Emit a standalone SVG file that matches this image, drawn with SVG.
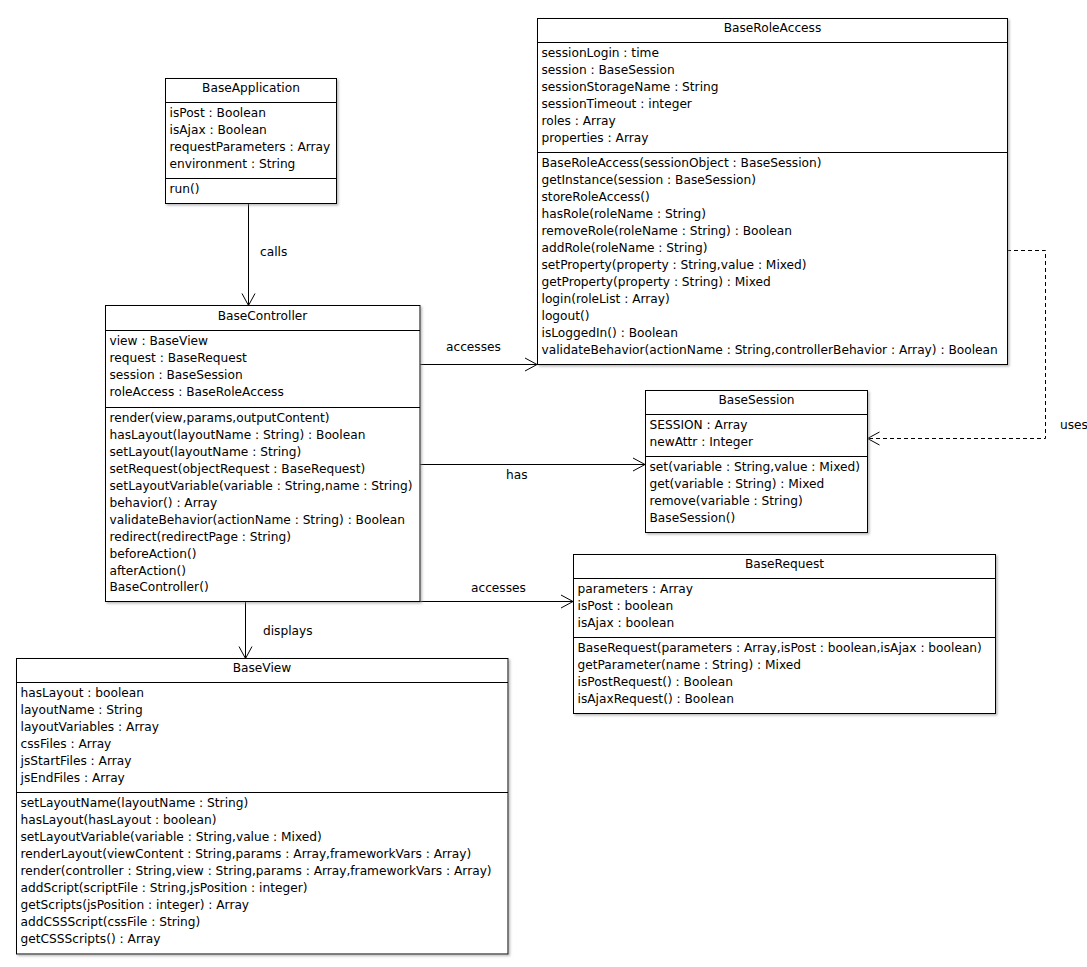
<svg xmlns="http://www.w3.org/2000/svg" width="1087" height="967" viewBox="0 0 1087 967">
<style>
  text { font-family: "DejaVu Sans", "Liberation Sans", sans-serif; font-size: 12.2px; fill: #000; }
  .title { text-anchor: middle; }
  .box { fill: #fff; stroke: #000; stroke-width: 1; filter: url(#sh); }
  .sep { stroke: #000; stroke-width: 1; fill: none; }
  .edge { stroke: #000; stroke-width: 1; fill: none; marker-end: url(#open); }
  .dash { stroke-dasharray: 4 3; }
</style>
<defs>
  <filter id="sh" x="-5%" y="-5%" width="110%" height="110%">
    <feDropShadow dx="1.5" dy="1.5" stdDeviation="0.8" flood-color="#888" flood-opacity="0.6"/>
  </filter>
  <marker id="open" viewBox="-14 -8 15 16" refX="0" refY="0" markerWidth="15" markerHeight="16" orient="auto" markerUnits="userSpaceOnUse">
    <path d="M-12,-6.5 L0,0 L-12,6.5" fill="none" stroke="#000" stroke-width="1"/>
  </marker>
</defs>
<rect width="1087" height="967" fill="#fff"/>

<g id="connectors">
  <path class="edge" d="M248.5,204 L248.5,305.5"/>
  <path class="edge" d="M420,364.5 L537,364.5"/>
  <path class="edge" d="M420,464.5 L645,464.5"/>
  <path class="edge" d="M420,601.5 L573,601.5"/>
  <path class="edge" d="M245.5,602 L245.5,658.5"/>
  <path class="edge dash" d="M1007,250.5 L1045.5,250.5 L1045.5,438.5 L867.5,438.5"/>
  <text x="260" y="256">calls</text>
  <text x="446" y="350.5">accesses</text>
  <text x="506" y="478.5">has</text>
  <text x="471" y="591.5">accesses</text>
  <text x="263" y="635">displays</text>
  <text x="1060" y="428.5">uses</text>
</g>

<g id="BaseApplication">
  <rect class="box" x="165.5" y="78.5" width="171" height="125"/>
  <path class="sep" d="M165.5,102.5 H336.5 M165.5,178.5 H336.5"/>
  <text class="title" x="251" y="91.5">BaseApplication</text>
  <text x="169.5" y="117">isPost : Boolean</text>
  <text x="169.5" y="134">isAjax : Boolean</text>
  <text x="169.5" y="151">requestParameters : Array</text>
  <text x="169.5" y="168">environment : String</text>
  <text x="169.5" y="192.5">run()</text>
</g>

<g id="BaseRoleAccess">
  <rect class="box" x="537.5" y="18.5" width="470" height="346"/>
  <path class="sep" d="M537.5,42.5 H1007.5 M537.5,152.5 H1007.5"/>
  <text class="title" x="772.5" y="31.5">BaseRoleAccess</text>
  <text x="541.5" y="57">sessionLogin : time</text>
  <text x="541.5" y="74">session : BaseSession</text>
  <text x="541.5" y="91">sessionStorageName : String</text>
  <text x="541.5" y="108">sessionTimeout : integer</text>
  <text x="541.5" y="125">roles : Array</text>
  <text x="541.5" y="142">properties : Array</text>
  <text x="541.5" y="167">BaseRoleAccess(sessionObject : BaseSession)</text>
  <text x="541.5" y="184">getInstance(session : BaseSession)</text>
  <text x="541.5" y="201">storeRoleAccess()</text>
  <text x="541.5" y="218">hasRole(roleName : String)</text>
  <text x="541.5" y="235">removeRole(roleName : String) : Boolean</text>
  <text x="541.5" y="252">addRole(roleName : String)</text>
  <text x="541.5" y="269">setProperty(property : String,value : Mixed)</text>
  <text x="541.5" y="286">getProperty(property : String) : Mixed</text>
  <text x="541.5" y="303">login(roleList : Array)</text>
  <text x="541.5" y="320">logout()</text>
  <text x="541.5" y="337">isLoggedIn() : Boolean</text>
  <text x="541.5" y="354">validateBehavior(actionName : String,controllerBehavior : Array) : Boolean</text>
</g>

<g id="BaseController">
  <rect class="box" x="105.5" y="305.5" width="314.5" height="296"/>
  <path class="sep" d="M105.5,330.5 H420 M105.5,407.5 H420"/>
  <text class="title" x="262.5" y="320">BaseController</text>
  <text x="109.5" y="345">view : BaseView</text>
  <text x="109.5" y="362">request : BaseRequest</text>
  <text x="109.5" y="379">session : BaseSession</text>
  <text x="109.5" y="396">roleAccess : BaseRoleAccess</text>
  <text x="109.5" y="421.5">render(view,params,outputContent)</text>
  <text x="109.5" y="438.5">hasLayout(layoutName : String) : Boolean</text>
  <text x="109.5" y="455.5">setLayout(layoutName : String)</text>
  <text x="109.5" y="472.5">setRequest(objectRequest : BaseRequest)</text>
  <text x="109.5" y="489.5">setLayoutVariable(variable : String,name : String)</text>
  <text x="109.5" y="506.5">behavior() : Array</text>
  <text x="109.5" y="523.5">validateBehavior(actionName : String) : Boolean</text>
  <text x="109.5" y="540.5">redirect(redirectPage : String)</text>
  <text x="109.5" y="557.5">beforeAction()</text>
  <text x="109.5" y="574.5">afterAction()</text>
  <text x="109.5" y="591">BaseController()</text>
</g>

<g id="BaseSession">
  <rect class="box" x="645.5" y="390.5" width="222" height="142"/>
  <path class="sep" d="M645.5,414.5 H867.5 M645.5,456.5 H867.5"/>
  <text class="title" x="756.5" y="404">BaseSession</text>
  <text x="649.5" y="429">SESSION : Array</text>
  <text x="649.5" y="446">newAttr : Integer</text>
  <text x="649.5" y="471">set(variable : String,value : Mixed)</text>
  <text x="649.5" y="488">get(variable : String) : Mixed</text>
  <text x="649.5" y="505">remove(variable : String)</text>
  <text x="649.5" y="522">BaseSession()</text>
</g>

<g id="BaseRequest">
  <rect class="box" x="573.5" y="554.5" width="422" height="159"/>
  <path class="sep" d="M573.5,578.5 H995.5 M573.5,637.5 H995.5"/>
  <text class="title" x="784.5" y="568">BaseRequest</text>
  <text x="577.5" y="593">parameters : Array</text>
  <text x="577.5" y="610">isPost : boolean</text>
  <text x="577.5" y="627">isAjax : boolean</text>
  <text x="577.5" y="652">BaseRequest(parameters : Array,isPost : boolean,isAjax : boolean)</text>
  <text x="577.5" y="669">getParameter(name : String) : Mixed</text>
  <text x="577.5" y="686">isPostRequest() : Boolean</text>
  <text x="577.5" y="703">isAjaxRequest() : Boolean</text>
</g>

<g id="BaseView">
  <rect class="box" x="16.5" y="658.5" width="491.5" height="295.5"/>
  <path class="sep" d="M16.5,682.5 H508 M16.5,792.5 H508"/>
  <text class="title" x="262" y="672">BaseView</text>
  <text x="20.5" y="697">hasLayout : boolean</text>
  <text x="20.5" y="714">layoutName : String</text>
  <text x="20.5" y="731">layoutVariables : Array</text>
  <text x="20.5" y="748">cssFiles : Array</text>
  <text x="20.5" y="765">jsStartFiles : Array</text>
  <text x="20.5" y="782">jsEndFiles : Array</text>
  <text x="20.5" y="807">setLayoutName(layoutName : String)</text>
  <text x="20.5" y="824">hasLayout(hasLayout : boolean)</text>
  <text x="20.5" y="841">setLayoutVariable(variable : String,value : Mixed)</text>
  <text x="20.5" y="858">renderLayout(viewContent : String,params : Array,frameworkVars : Array)</text>
  <text x="20.5" y="875">render(controller : String,view : String,params : Array,frameworkVars : Array)</text>
  <text x="20.5" y="892">addScript(scriptFile : String,jsPosition : integer)</text>
  <text x="20.5" y="909">getScripts(jsPosition : integer) : Array</text>
  <text x="20.5" y="926">addCSSScript(cssFile : String)</text>
  <text x="20.5" y="943">getCSSScripts() : Array</text>
</g>
</svg>
